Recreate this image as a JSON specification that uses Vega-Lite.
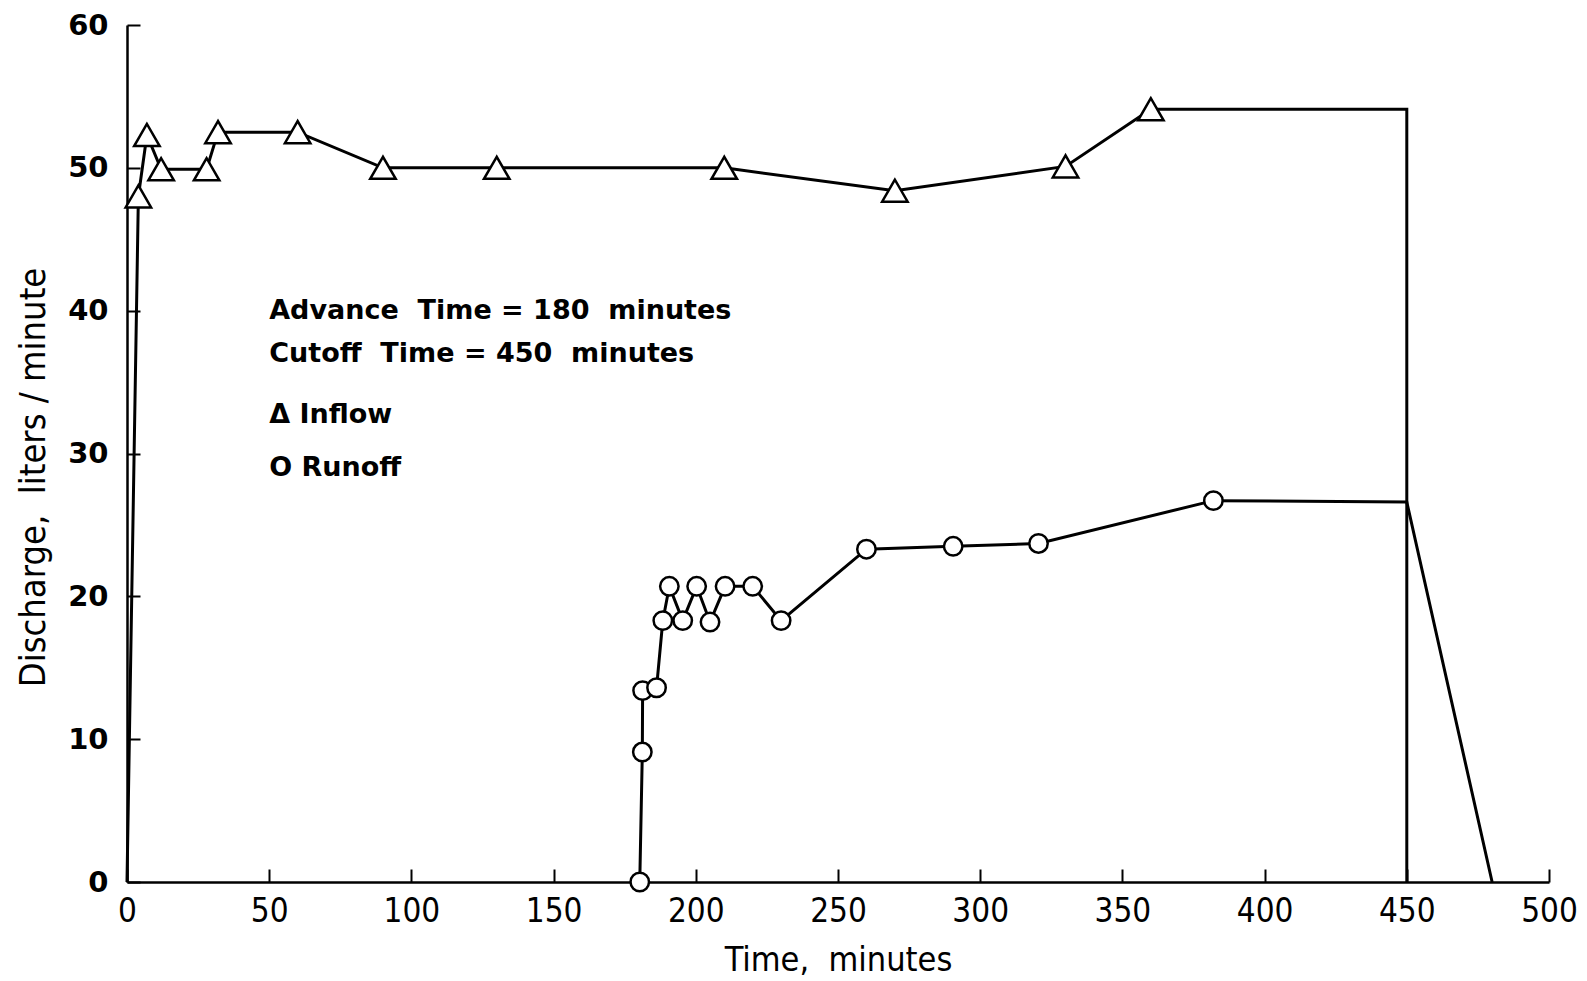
{
  "$schema": "https://vega.github.io/schema/vega-lite/v6.json",
  "width": 1422,
  "height": 857,
  "autosize": {"type": "none"},
  "padding": {"left": 127, "top": 25, "right": 38, "bottom": 99},
  "background": "white",
  "config": {
    "view": {"stroke": null},
    "axis": {
      "grid": false,
      "domainColor": "black",
      "domainWidth": 2.5,
      "tickColor": "black",
      "tickWidth": 2,
      "tickSize": -13,
      "labelColor": "black",
      "labelFlush": false,
      "titleColor": "black",
      "titleFontWeight": "normal"
    }
  },
  "datasets": {
    "inflow": [
      {"t": 0, "q": 0, "m": false, "i": 0},
      {"t": 4, "q": 48, "m": true, "i": 1},
      {"t": 7, "q": 52.3, "m": true, "i": 2},
      {"t": 12, "q": 49.9, "m": true, "i": 3},
      {"t": 28, "q": 49.9, "m": true, "i": 4},
      {"t": 32, "q": 52.5, "m": true, "i": 5},
      {"t": 60, "q": 52.5, "m": true, "i": 6},
      {"t": 90, "q": 50, "m": true, "i": 7},
      {"t": 130, "q": 50, "m": true, "i": 8},
      {"t": 210, "q": 50, "m": true, "i": 9},
      {"t": 270, "q": 48.4, "m": true, "i": 10},
      {"t": 330, "q": 50.1, "m": true, "i": 11},
      {"t": 360, "q": 54.1, "m": true, "i": 12},
      {"t": 450, "q": 54.1, "m": false, "i": 13},
      {"t": 450, "q": 0, "m": false, "i": 14}
    ],
    "runoff": [
      {"t": 180.3, "q": 0, "m": true, "i": 0},
      {"t": 181.2, "q": 9.1, "m": true, "i": 1},
      {"t": 181.3, "q": 13.4, "m": true, "i": 2},
      {"t": 186.2, "q": 13.6, "m": true, "i": 3},
      {"t": 188.4, "q": 18.3, "m": true, "i": 4},
      {"t": 190.7, "q": 20.7, "m": true, "i": 5},
      {"t": 195.4, "q": 18.3, "m": true, "i": 6},
      {"t": 200.3, "q": 20.7, "m": true, "i": 7},
      {"t": 205, "q": 18.2, "m": true, "i": 8},
      {"t": 210.3, "q": 20.7, "m": true, "i": 9},
      {"t": 220, "q": 20.7, "m": true, "i": 10},
      {"t": 230, "q": 18.3, "m": true, "i": 11},
      {"t": 260, "q": 23.3, "m": true, "i": 12},
      {"t": 290.5, "q": 23.5, "m": true, "i": 13},
      {"t": 320.5, "q": 23.7, "m": true, "i": 14},
      {"t": 382, "q": 26.7, "m": true, "i": 15},
      {"t": 450, "q": 26.6, "m": false, "i": 16},
      {"t": 480, "q": 0, "m": false, "i": 17}
    ],
    "notes": [
      {"t": 50, "q": 40.0, "label": "Advance\u00a0\u00a0Time\u00a0=\u00a0180\u00a0\u00a0minutes"},
      {"t": 50, "q": 37.0, "label": "Cutoff\u00a0\u00a0Time\u00a0=\u00a0450\u00a0\u00a0minutes"},
      {"t": 50, "q": 32.7, "label": "Δ\u00a0Inflow"},
      {"t": 50, "q": 29.0, "label": "O\u00a0Runoff"}
    ]
  },
  "encoding": {
    "x": {
      "field": "t", "type": "quantitative",
      "scale": {"domain": [0, 500], "nice": false, "zero": false},
      "axis": {
        "title": "Time,\u00a0\u00a0minutes",
        "values": [0, 50, 100, 150, 200, 250, 300, 350, 400, 450, 500],
        "labelFont": "DejaVu Sans Condensed",
        "labelFontSize": 33,
        "labelPadding": 26,
        "titleFont": "DejaVu Sans Condensed",
        "titleFontSize": 34,
        "titlePadding": 15
      }
    },
    "y": {
      "field": "q", "type": "quantitative",
      "scale": {"domain": [0, 60], "nice": false},
      "axis": {
        "title": "Discharge,\u00a0\u00a0liters\u00a0/\u00a0minute",
        "titleY": 452,
        "values": [0, 10, 20, 30, 40, 50, 60],
        "labelFont": "DejaVu Sans",
        "labelFontSize": 29,
        "labelFontWeight": "bold",
        "labelPadding": 32,
        "titleFont": "DejaVu Sans Condensed",
        "titleFontSize": 36,
        "titlePadding": 15
      }
    }
  },
  "layer": [
    {
      "data": {"name": "inflow"},
      "mark": {"type": "line", "color": "black", "strokeWidth": 3},
      "encoding": {"order": {"field": "i", "type": "quantitative"}}
    },
    {
      "data": {"name": "inflow"},
      "transform": [{"filter": "datum.m"}],
      "mark": {"type": "point", "shape": "triangle-up", "size": 650, "filled": true, "fill": "white", "stroke": "black", "strokeWidth": 2.5, "opacity": 1}
    },
    {
      "data": {"name": "runoff"},
      "mark": {"type": "line", "color": "black", "strokeWidth": 3},
      "encoding": {"order": {"field": "i", "type": "quantitative"}}
    },
    {
      "data": {"name": "runoff"},
      "transform": [{"filter": "datum.m"}],
      "mark": {"type": "point", "shape": "circle", "size": 340, "filled": true, "fill": "white", "stroke": "black", "strokeWidth": 2.5, "opacity": 1}
    },
    {
      "data": {"name": "notes"},
      "mark": {"type": "text", "align": "left", "baseline": "middle", "font": "DejaVu Sans", "fontSize": 27, "fontWeight": "bold", "color": "black"},
      "encoding": {"text": {"field": "label"}}
    }
  ]
}
